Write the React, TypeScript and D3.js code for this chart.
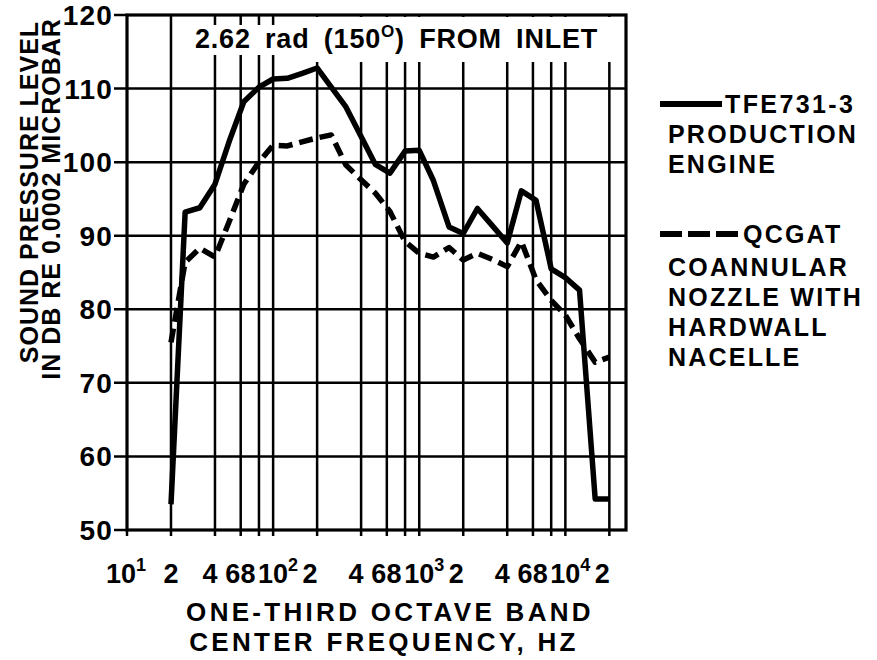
import React from "react";
import * as d3 from "d3";

const width = 877;
const height = 660;

// one-third octave band centre frequencies, Hz
const freqs = [
  20, 25, 31.5, 40, 50, 63, 80, 100, 125, 160, 200, 250, 315, 400, 500, 630,
  800, 1000, 1250, 1600, 2000, 2500, 3150, 4000, 5000, 6300, 8000, 10000,
  12500, 16000, 20000,
];

// TFE731-3 production engine, dB
const tfeLevels = [
  53.5, 93.2, 93.8, 97, 102.8, 108.2, 110.2, 111.3, 111.4, 112.1, 112.8, 110.2,
  107.5, 103.5, 99.7, 98.5, 101.5, 101.6, 97.5, 91.2, 90.3, 93.7, 91.4, 89,
  96.1, 94.8, 85.5, 84.3, 82.6, 54.2, 54.2,
];

// QCGAT coannular nozzle with hardwall nacelle, dB
const qcgatLevels = [
  75.5, 86.4, 88.3, 87.1, 91.9, 97, 100, 102.3, 102.2, 102.8, 103.3, 103.7,
  99.6, 97.6, 95.8, 93.3, 89.2, 87.6, 87.1, 88.4, 86.7, 87.6, 86.8, 85.8, 89.2,
  84, 81.2, 79.2, 76, 72.8, 73.5,
];

const yTicks = [50, 60, 70, 80, 90, 100, 110, 120];
const xTicks = [
  10, 20, 40, 60, 80, 100, 200, 400, 600, 800, 1000, 2000, 4000, 6000, 8000,
  10000, 20000,
];
const xTickBase = ["10", "2", "4", "6", "8", "10", "2", "4", "6", "8", "10", "2", "4", "6", "8", "10", "2"];
const xTickSup = ["1", "", "", "", "", "2", "", "", "", "", "3", "", "", "", "", "4", ""];

const solidLegend = ["PRODUCTION", "ENGINE"];
const dashedLegend = ["COANNULAR", "NOZZLE WITH", "HARDWALL", "NACELLE"];

const font = "'Liberation Sans', Arial, sans-serif";

// the printed digits sit a little left of their grid lines
const digitNudge: Record<string, number> = { "2": -7, "4": -5, "6": -8, "8": -11 };

export default function App() {
  const x = d3.scaleLog().domain([10, 26000]).range([127, 626]);
  const y = d3.scaleLinear().domain([50, 120]).range([530, 15]);

  const line = d3
    .line<number>()
    .x((_, i) => x(freqs[i]))
    .y(d => y(d));

  const left = x.range()[0];
  const right = x.range()[1];
  const top = y.range()[1];
  const bottom = y.range()[0];

  return (
    <svg
      width={width}
      height={height}
      style={{ position: "absolute", left: 0, top: 0, background: "#fff" }}
      fontFamily={font}
      fontWeight="bold"
    >
      {/* grid */}
      {xTicks.slice(1).map(t => (
        <line key={"gx" + t} x1={x(t)} x2={x(t)} y1={top} y2={bottom + 6} stroke="#000" strokeWidth={2.5} />
      ))}
      <line x1={left} x2={left} y1={bottom} y2={bottom + 6} stroke="#000" strokeWidth={2.5} />
      {yTicks.slice(1, -1).map(t => (
        <line key={"gy" + t} x1={left - 13} x2={right} y1={y(t)} y2={y(t)} stroke="#000" strokeWidth={2.5} />
      ))}
      <line x1={left - 13} x2={left} y1={top} y2={top} stroke="#000" strokeWidth={2.5} />
      <line x1={left - 13} x2={left} y1={bottom} y2={bottom} stroke="#000" strokeWidth={2.5} />

      {/* title box */}
      <rect x={182} y={25} width={120} height={30} fill="#fff" />
      <rect x={302} y={17} width={321} height={45} fill="#fff" />

      {/* frame */}
      <rect x={left} y={top} width={right - left} height={bottom - top} fill="none" stroke="#000" strokeWidth={3.2} />

      {/* curves */}
      <path d={line(qcgatLevels) ?? ""} fill="none" stroke="#000" strokeWidth={5.5} strokeDasharray="14 7" strokeLinejoin="round" />
      <path d={line(tfeLevels) ?? ""} fill="none" stroke="#000" strokeWidth={5.5} strokeLinejoin="round" />

      {/* title */}
      <text x={195} y={48} fontSize={27} letterSpacing={0.8} wordSpacing={6}>
        2.62 rad (150
        <tspan fontSize={17} dy={-11}>O</tspan>
        <tspan dy={11}>) FROM INLET</tspan>
      </text>

      {/* y tick labels */}
      {yTicks.map(t => (
        <text key={"yl" + t} x={113} y={y(t) + 10} fontSize={28} textAnchor="end" letterSpacing={1.2}>
          {t}
        </text>
      ))}

      {/* x tick labels */}
      {xTicks.map((t, i) =>
        xTickSup[i] ? (
          <g key={"xl" + t}>
            <text x={x(t) - (i === 0 ? 6 : 0)} y={583} fontSize={27} textAnchor="middle">{xTickBase[i]}</text>
            <text x={x(t) + (i === 0 ? 9 : 15)} y={571} fontSize={18}>{xTickSup[i]}</text>
          </g>
        ) : (
          <text key={"xl" + t} x={x(t) + (i === 1 ? 0 : digitNudge[xTickBase[i]])} y={583} fontSize={27} textAnchor="middle">
            {xTickBase[i]}
          </text>
        )
      )}

      {/* axis titles */}
      <text x={390} y={621} fontSize={26} textAnchor="middle" letterSpacing={3.3}>ONE-THIRD OCTAVE BAND</text>
      <text x={384} y={651} fontSize={26} textAnchor="middle" letterSpacing={3.3}>CENTER FREQUENCY, HZ</text>
      <text transform="translate(38,192) rotate(-90)" fontSize={25} textAnchor="middle" letterSpacing={1}>
        SOUND PRESSURE LEVEL
      </text>
      <text transform="translate(60,199) rotate(-90)" fontSize={25} textAnchor="middle" letterSpacing={1}>
        IN DB RE 0.0002 MICROBAR
      </text>

      {/* legend */}
      <line x1={660} x2={722} y1={104} y2={104} stroke="#000" strokeWidth={6} />
      <text x={725} y={113} fontSize={25} letterSpacing={2.4}>TFE731-3</text>
      {solidLegend.map((s, i) => (
        <text key={s} x={668} y={143 + i * 30} fontSize={25} letterSpacing={2.2}>{s}</text>
      ))}
      <line x1={660} x2={740} y1={234} y2={234} stroke="#000" strokeWidth={6} strokeDasharray="22 6" />
      <text x={743} y={243} fontSize={25} letterSpacing={2.2}>QCGAT</text>
      {dashedLegend.map((s, i) => (
        <text key={s} x={668} y={276 + i * 30} fontSize={25} letterSpacing={2.2}>{s}</text>
      ))}
    </svg>
  );
}
